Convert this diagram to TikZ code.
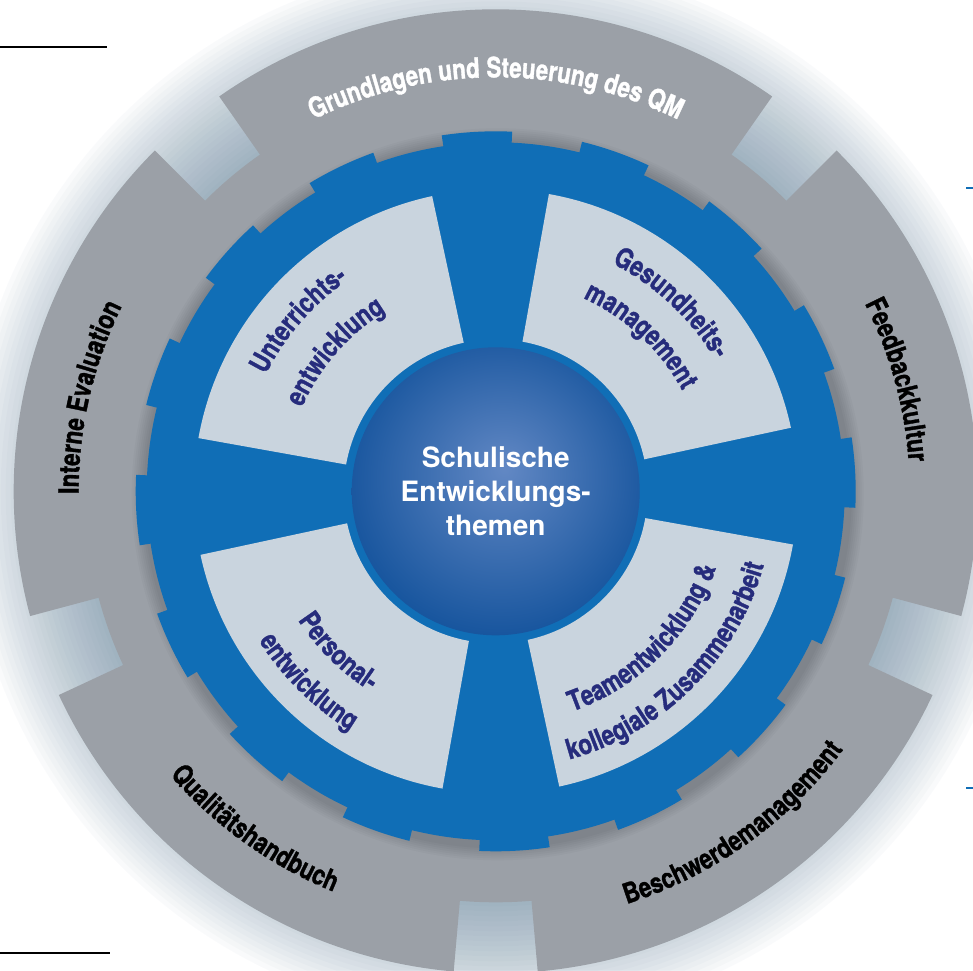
\documentclass[tikz,border=0pt]{standalone}
\usepackage{fontspec}
\newfontfamily\cndfont[FakeStretch=0.8, BoldFeatures={FakeBold=1.2}]{TeX Gyre Heros}
\newfontfamily\hvfont{TeX Gyre Heros}
\usetikzlibrary{decorations.text}

\definecolor{ringgray}{HTML}{9BA0A7}
\definecolor{gearblue}{HTML}{106EB6}
\definecolor{sectorgray}{HTML}{C9D4DE}
\definecolor{corenavy}{HTML}{044894}
\definecolor{coreglow}{HTML}{6288C4}
\definecolor{labelnavy}{HTML}{262C7C}
\definecolor{glowblue}{HTML}{5E7F99}

\newcommand{\segfont}{\cndfont\bfseries\fontsize{28}{30}\selectfont}
\pgfdeclareradialshading{coreshade}{\pgfpoint{1.5bp}{4bp}}{color(0bp)=(coreglow); color(34bp)=(corenavy); color(50bp)=(corenavy)}

\tikzset{
  arclabel/.style 2 args={decorate, decoration={text along path, text align=center, text color=#1, text={|\segfont|#2}}},
}

\begin{document}
\begin{tikzpicture}[x=1pt, y=1pt]
  \useasboundingbox (-495.7,-478.7) rectangle (477.3,491.3);
  \clip (-495.7,-478.7) rectangle (477.3,491.3);
  \fill[white] (-495.7,-478.7) rectangle (477.3,491.3); % page
  % soft glow round the outer ring
  \foreach \r in {415,420,...,530}
    \fill[glowblue, opacity=0.03] (0,0) circle[radius=1pt*\r];
  \fill[ringgray] (0,0) circle[radius=411pt]; % inner gray ring
  % outer segments
  \foreach \a/\b in {55/125, 135/195, 205/265, 275/335, -15/45}
    \fill[ringgray] (\a:405) arc[start angle=\a, end angle=\b, radius=405pt] -- (\b:482) arc[start angle=\b, end angle=\a, radius=482pt] -- cycle;
  % shadow of the gear on the ring
  \foreach \s in {2,4,...,14}
    \fill[black, opacity=0.025] (2,-3) circle[radius=1pt*(352+\s)];
  % blue gear with 16 teeth
  \fill[gearblue] (0,0) circle[radius=349pt];
  \foreach \k in {0,...,15} {
    \pgfmathsetmacro\ta{87.375+22.5*\k}
    \pgfmathsetmacro\tb{98.625+22.5*\k}
    \fill[gearblue] (\ta:340) arc[start angle=\ta, end angle=\tb, radius=340pt] -- (\tb:360) arc[start angle=\tb, end angle=\ta, radius=360pt] -- cycle;
  }
  % four light sectors
  \foreach \c in {46,136,226,316} {
    \pgfmathsetmacro\sa{\c-33.85}
    \pgfmathsetmacro\sb{\c+33.85}
    \fill[sectorgray] (\sa:152) arc[start angle=\sa, end angle=\sb, radius=152pt] -- (\sb:302) arc[start angle=\sb, end angle=\sa, radius=302pt] -- cycle;
  }
  % core
  \shade[shading=coreshade] (0,0) circle[radius=144pt];
  \node[align=center, text=white, font=\hvfont\bfseries\fontsize{28}{34}\selectfont] (core) at (0,0) {Schulische\\Entwicklungs-\\themen};

  % ring labels
  \path[arclabel={white}{Grundlagen und Steuerung des QM}] (125:414) arc[start angle=125, end angle=55, radius=414pt];
  \path[arclabel={black}{Interne Evaluation}] (200:417) arc[start angle=200, end angle=134, radius=417pt];
  \path[arclabel={black}{Feedbackkultur}] (46:414) arc[start angle=46, end angle=-15, radius=414pt];
  \path[arclabel={black}{Qualitätshandbuch}] (205:432) arc[start angle=205, end angle=264, radius=432pt];
  \path[arclabel={black}{Beschwerdemanagement}] (276:433) arc[start angle=276, end angle=335, radius=433pt];

  % sector labels
  \path[arclabel={labelnavy}{Unterrichts-}] (179:258) arc[start angle=179, end angle=99, radius=258pt];
  \path[arclabel={labelnavy}{entwicklung}] (179:211) arc[start angle=179, end angle=99, radius=211pt];
  \path[arclabel={labelnavy}{Gesundheits-}] (87:256) arc[start angle=87, end angle=7, radius=256pt];
  \path[arclabel={labelnavy}{management}] (87:212) arc[start angle=87, end angle=7, radius=212pt];
  \path[arclabel={labelnavy}{Personal-}] (185:236) arc[start angle=185, end angle=266, radius=236pt];
  \path[arclabel={labelnavy}{entwicklung}] (185:280) arc[start angle=185, end angle=266, radius=280pt];
  \path[arclabel={labelnavy}{Teamentwicklung {\&}}] (270:233) arc[start angle=270, end angle=360, radius=233pt];
  \path[arclabel={labelnavy}{kollegiale Zusammenarbeit}] (270:278) arc[start angle=270, end angle=360, radius=278pt];

  % page rules
  \draw[line width=1.5pt] (-495.7,444.3) -- (-388.7,444.3);
  \draw[line width=2pt] (-495.7,-461.7) -- (-385.7,-461.7);
  \draw[gearblue, line width=1.5pt] (470.3,303.3) -- (477.3,303.3);
  \draw[gearblue, line width=1.5pt] (470.3,-296.7) -- (477.3,-296.7);
\end{tikzpicture}
\end{document}
